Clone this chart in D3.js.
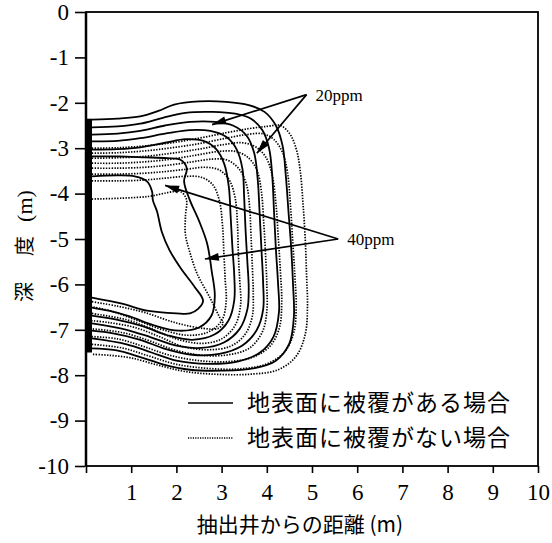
<!DOCTYPE html>
<html><head><meta charset="utf-8">
<script src="https://cdn.jsdelivr.net/npm/d3@7"></script>
<style>body{margin:0;background:#fff}</style>
</head><body><svg id="c" width="552" height="543"></svg>
<script>
// ---- data ----
const xTicks=[0,1,2,3,4,5,6,7,8,9,10];
const yTicks=[0,-1,-2,-3,-4,-5,-6,-7,-8,-9,-10];
const wellScreen=[-2.35,-7.5];
// covered surface (solid) contours, outer -> inner  [distance m, depth m]
const covered0=[[0.13,-2.37],[0.7,-2.35],[1.2,-2.3],[1.6,-2.18],[1.95,-2.04],[2.5,-1.97],[3.1,-1.98],[3.6,-2.05],[3.95,-2.2],[4.2,-2.5],[4.35,-2.95],[4.42,-3.6],[4.48,-4.4],[4.54,-5.2],[4.58,-6.0],[4.6,-6.7],[4.5,-7.3],[4.2,-7.68],[3.7,-7.85],[3.0,-7.9],[2.3,-7.88],[1.7,-7.76],[1.2,-7.6],[0.65,-7.45],[0.13,-7.41]];
const covered1=[[0.13,-2.54],[0.7,-2.52],[1.2,-2.46],[1.7,-2.33],[2.2,-2.22],[2.8,-2.2],[3.3,-2.24],[3.65,-2.35],[3.9,-2.6],[4.05,-3.0],[4.12,-3.6],[4.16,-4.4],[4.2,-5.2],[4.25,-6.0],[4.27,-6.6],[4.15,-7.15],[3.85,-7.5],[3.35,-7.7],[2.7,-7.75],[2.0,-7.68],[1.45,-7.5],[0.9,-7.32],[0.13,-7.19]];
const covered2=[[0.13,-2.70],[0.7,-2.68],[1.2,-2.62],[1.75,-2.5],[2.3,-2.42],[2.85,-2.42],[3.25,-2.5],[3.55,-2.72],[3.72,-3.1],[3.8,-3.7],[3.84,-4.4],[3.88,-5.2],[3.92,-6.0],[3.92,-6.55],[3.78,-7.0],[3.45,-7.35],[2.95,-7.53],[2.35,-7.55],[1.75,-7.42],[1.2,-7.22],[0.6,-7.08],[0.13,-7.02]];
const covered3=[[0.13,-2.85],[0.7,-2.84],[1.2,-2.78],[1.8,-2.67],[2.3,-2.6],[2.75,-2.62],[3.1,-2.75],[3.33,-3.02],[3.46,-3.45],[3.5,-4.1],[3.53,-4.8],[3.57,-5.5],[3.6,-6.1],[3.57,-6.55],[3.4,-6.98],[3.05,-7.28],[2.55,-7.4],[2.0,-7.35],[1.45,-7.17],[0.9,-7.0],[0.13,-6.86]];
const covered4=[[0.13,-3.03],[0.7,-3.02],[1.2,-2.98],[1.75,-2.88],[2.2,-2.8],[2.6,-2.84],[2.88,-3.02],[3.06,-3.35],[3.16,-3.85],[3.2,-4.5],[3.24,-5.2],[3.28,-5.8],[3.28,-6.35],[3.15,-6.8],[2.85,-7.1],[2.35,-7.22],[1.8,-7.12],[1.25,-6.92],[0.7,-6.78],[0.13,-6.69]];
const covered5=[[0.13,-3.18],[0.7,-3.18],[1.3,-3.2],[1.8,-3.22],[2.08,-3.25],[2.23,-3.44],[2.17,-3.73],[2.3,-4.15],[2.5,-4.6],[2.68,-5.1],[2.78,-5.7],[2.85,-6.25],[2.78,-6.68],[2.5,-6.95],[2.05,-7.02],[1.5,-6.9],[0.95,-6.7],[0.5,-6.58],[0.13,-6.51]];
const covered6=[[0.13,-3.62],[0.7,-3.6],[1.08,-3.62],[1.35,-3.73],[1.46,-3.95],[1.48,-4.15],[1.57,-4.39],[1.68,-4.85],[1.85,-5.25],[2.1,-5.65],[2.4,-6.05],[2.59,-6.36],[2.48,-6.54],[2.3,-6.64],[2.0,-6.64],[1.35,-6.58],[0.82,-6.43],[0.13,-6.29]];
// uncovered surface (dotted) contours, outer -> inner
const open0=[[0.13,-3.00],[0.7,-2.99],[1.3,-2.95],[1.9,-2.88],[2.5,-2.78],[3.1,-2.66],[3.6,-2.57],[4.0,-2.52],[4.3,-2.5],[4.52,-2.7],[4.66,-3.05],[4.74,-3.5],[4.8,-4.2],[4.85,-5.0],[4.88,-5.8],[4.9,-6.5],[4.85,-7.1],[4.65,-7.58],[4.25,-7.88],[3.6,-7.98],[2.9,-7.98],[2.2,-7.92],[1.6,-7.78],[1.0,-7.62],[0.5,-7.56],[0.13,-7.54]];
const open1=[[0.13,-3.11],[0.7,-3.1],[1.3,-3.06],[1.9,-2.99],[2.5,-2.9],[3.1,-2.78],[3.55,-2.7],[3.9,-2.68],[4.15,-2.8],[4.35,-3.1],[4.46,-3.55],[4.52,-4.2],[4.57,-5.0],[4.62,-5.8],[4.65,-6.5],[4.6,-7.05],[4.4,-7.48],[4.0,-7.75],[3.4,-7.86],[2.7,-7.85],[2.0,-7.76],[1.4,-7.58],[0.8,-7.4],[0.13,-7.32]];
const open2=[[0.13,-3.22],[0.7,-3.21],[1.3,-3.18],[1.9,-3.11],[2.5,-3.02],[3.05,-2.92],[3.45,-2.88],[3.75,-2.97],[3.98,-3.2],[4.12,-3.6],[4.2,-4.2],[4.25,-4.9],[4.3,-5.7],[4.33,-6.4],[4.28,-6.95],[4.08,-7.35],[3.7,-7.6],[3.15,-7.7],[2.5,-7.68],[1.85,-7.56],[1.25,-7.36],[0.7,-7.2],[0.13,-7.15]];
const open3=[[0.13,-3.33],[0.7,-3.33],[1.3,-3.3],[1.9,-3.24],[2.45,-3.15],[2.95,-3.07],[3.3,-3.07],[3.58,-3.2],[3.78,-3.48],[3.88,-3.95],[3.93,-4.6],[3.97,-5.3],[4.0,-6.0],[4.0,-6.6],[3.9,-7.05],[3.62,-7.4],[3.15,-7.55],[2.55,-7.56],[1.95,-7.44],[1.4,-7.24],[0.8,-7.06],[0.13,-6.98]];
const open4=[[0.13,-3.44],[0.7,-3.44],[1.3,-3.42],[1.85,-3.37],[2.35,-3.3],[2.8,-3.24],[3.12,-3.26],[3.38,-3.45],[3.55,-3.8],[3.62,-4.3],[3.65,-4.9],[3.68,-5.6],[3.7,-6.2],[3.68,-6.7],[3.52,-7.1],[3.2,-7.36],[2.7,-7.44],[2.15,-7.37],[1.6,-7.14],[1.05,-6.94],[0.5,-6.84],[0.13,-6.80]];
const open5=[[0.13,-3.57],[0.7,-3.57],[1.3,-3.55],[1.8,-3.51],[2.25,-3.46],[2.65,-3.42],[2.95,-3.48],[3.17,-3.7],[3.3,-4.1],[3.35,-4.65],[3.37,-5.3],[3.4,-5.9],[3.42,-6.45],[3.3,-6.9],[3.0,-7.2],[2.55,-7.3],[2.0,-7.2],[1.45,-6.98],[0.9,-6.78],[0.13,-6.64]];
const open6=[[0.13,-3.72],[0.7,-3.72],[1.3,-3.7],[1.75,-3.66],[2.2,-3.62],[2.55,-3.64],[2.8,-3.8],[2.95,-4.15],[3.02,-4.7],[3.05,-5.3],[3.08,-5.9],[3.1,-6.4],[3.0,-6.8],[2.7,-7.05],[2.25,-7.12],[1.7,-7.0],[1.15,-6.8],[0.6,-6.6],[0.13,-6.49]];
const open7=[[0.13,-4.12],[0.8,-4.1],[1.4,-4.06],[1.8,-3.98],[2.08,-3.95],[2.22,-4.12],[2.2,-4.5],[2.2,-4.9],[2.3,-5.3],[2.46,-5.77],[2.74,-6.29],[2.96,-6.73],[3.03,-6.86],[2.92,-6.97],[2.6,-6.97],[2.0,-6.85],[1.3,-6.62],[0.7,-6.48],[0.13,-6.38]];
// annotations
const note20={label:"20ppm",from:[4.88,-1.82],to:[[2.79,-2.48],[3.78,-3.11]]};
const note40={label:"40ppm",from:[5.58,-5.0],to:[[1.75,-3.82],[2.63,-5.44]]};
const legendLabels=["地表面に被覆がある場合","地表面に被覆がない場合"];
const xTitle="抽出井からの距離 (m)";

// ---- drawing ----
const svg=d3.select("#c");
const x=d3.scaleLinear().domain([0,10]).range([86,538]);
const y=d3.scaleLinear().domain([0,-10]).range([12,466]);
const serif="'Liberation Serif','Times New Roman',serif";
const jp="'Noto Sans CJK JP','Noto Sans CJK SC',sans-serif";

const line=d3.line().x(d=>x(d[0])).y(d=>y(d[1])).curve(d3.curveCatmullRom.alpha(0.5));
const coveredSet=[covered0,covered1,covered2,covered3,covered4,covered5,covered6];
const openSet=[open0,open1,open2,open3,open4,open5,open6,open7];

svg.append("g").selectAll("path").data(openSet).join("path")
  .attr("d",line).attr("fill","none").attr("stroke","#000")
  .attr("stroke-width",1.7).attr("stroke-dasharray","1.4,1.4");
svg.append("g").selectAll("path").data(coveredSet).join("path")
  .attr("d",line).attr("fill","none").attr("stroke","#000")
  .attr("stroke-width",1.8);

// frame
svg.append("rect").attr("x",x(0)).attr("y",y(0)).attr("width",x(10)-x(0)).attr("height",y(-10)-y(0))
  .attr("fill","none").attr("stroke","#000").attr("stroke-width",1.8);
svg.append("line").attr("x1",x(0)).attr("x2",x(0)).attr("y1",y(0)).attr("y2",y(-10)).attr("stroke","#000").attr("stroke-width",2.5);

// well screen
svg.append("rect").attr("x",x(0)).attr("y",y(wellScreen[0])).attr("width",6)
  .attr("height",y(wellScreen[1])-y(wellScreen[0])).attr("fill","#000");

// axes
const ya=svg.append("g").attr("transform",`translate(${x(0)-1},0)`)
  .call(d3.axisLeft(y).tickValues(yTicks).tickSize(10).tickPadding(6).tickFormat(d=>String(d)));
ya.attr("font-family",serif).attr("font-size",23);
ya.select(".domain").remove();
ya.selectAll("line").attr("stroke-width",1.6);
ya.selectAll("text").style("font-family",serif).style("font-size","23px").attr("fill","#000");
const xa=svg.append("g").attr("transform",`translate(0,${y(-10)})`)
  .call(d3.axisBottom(x).tickValues(xTicks).tickSize(7).tickPadding(11).tickFormat(d=>d===0?"":String(d)));
xa.attr("font-family",serif).attr("font-size",23);
xa.select(".domain").remove();
xa.selectAll("line").attr("stroke-width",1.6);
xa.selectAll("text").style("font-family",serif).style("font-size","23px").attr("fill","#000");

// annotations
function arrowHead(tip,from){
  const tx=x(tip[0]),ty=y(tip[1]),fx=x(from[0]),fy=y(from[1]);
  const a=Math.atan2(ty-fy,tx-fx),L=14,W=4;
  const bx=tx-L*Math.cos(a),by=ty-L*Math.sin(a);
  return `M${tx},${ty}L${bx-W*Math.sin(a)},${by+W*Math.cos(a)}L${bx+W*Math.sin(a)},${by-W*Math.cos(a)}Z`;
}
[note20,note40].forEach(n=>{
  const g=svg.append("g");
  n.to.forEach(t=>{
    g.append("line").attr("x1",x(n.from[0])).attr("y1",y(n.from[1])).attr("x2",x(t[0])).attr("y2",y(t[1]))
      .attr("stroke","#000").attr("stroke-width",1.7);
    g.append("path").attr("d",arrowHead(t,n.from)).attr("fill","#000");
  });
  g.append("text").attr("x",x(n.from[0])+9).attr("y",y(n.from[1])).attr("dy","0.35em")
    .style("font-family",serif).style("font-size","17px").text(n.label);
});

// legend
const lg=svg.append("g");
legendLabels.forEach((t,i)=>{
  const yy=403+i*35;
  lg.append("line").attr("x1",188).attr("x2",233).attr("y1",yy).attr("y2",yy)
    .attr("stroke","#000").attr("stroke-width",i?1.3:1.6).attr("stroke-dasharray",i?"1.2,1.2":null);
  lg.append("text").attr("x",247).attr("y",yy).attr("dy","0.36em")
    .style("font-family",jp).style("font-size","23px").attr("letter-spacing","1px").text(t);
});

// titles
svg.append("text").attr("x",300).attr("y",524).attr("dy","0.36em").attr("text-anchor","middle")
  .style("font-family",jp).style("font-size","21px").text(xTitle);
const yt=svg.append("text").attr("transform","translate(25,246) rotate(-90)").attr("text-anchor","middle").attr("dy","0.36em")
  .style("font-family",jp).style("font-size","20px");
yt.append("tspan").text("深");
yt.append("tspan").attr("dx",26).text("度");
yt.append("tspan").attr("dx",14).style("font-family",serif).style("font-size","22px").text("(m)");
</script></body></html>
